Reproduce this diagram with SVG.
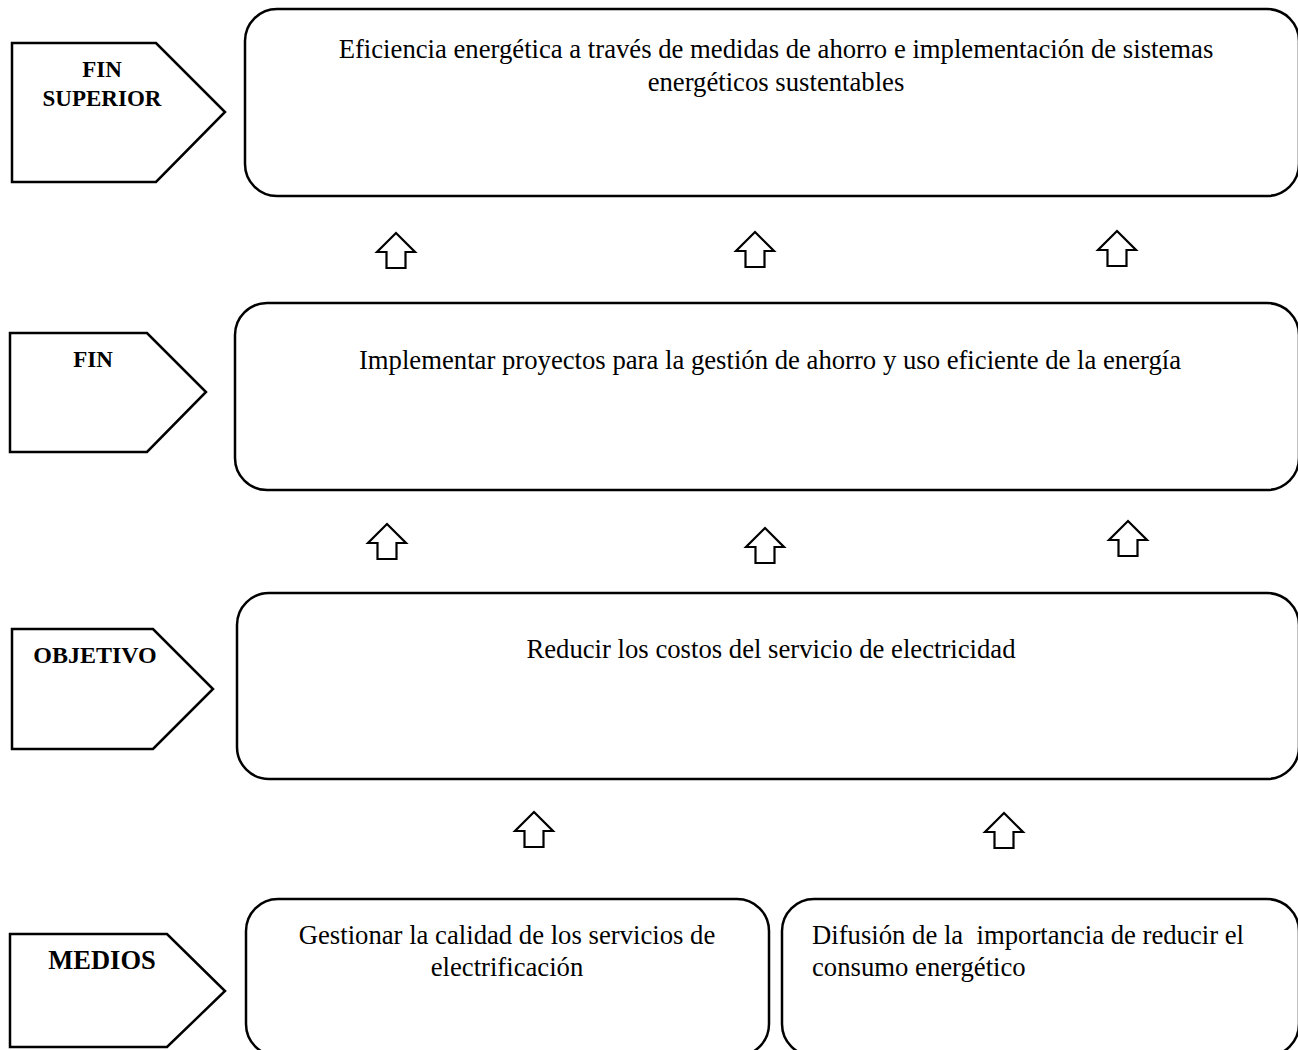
<svg xmlns="http://www.w3.org/2000/svg" width="1298" height="1050" viewBox="0 0 1298 1050">
<defs>
<style>
.box{fill:#fff;stroke:#000;stroke-width:2.5}
.pent{fill:#fff;stroke:#000;stroke-width:2.5;stroke-linejoin:miter}
.arr{fill:#fff;stroke:#000;stroke-width:2.2;stroke-linejoin:miter}
.t{font-family:"Liberation Serif","Times New Roman",serif;font-size:26.7px;fill:#000}
.c{text-anchor:middle}
.lb{font-family:"Liberation Serif","Times New Roman",serif;font-size:23px;font-weight:bold;fill:#000;text-anchor:middle}
</style>
<path id="up" d="M0,0 L19,19 L9.5,19 L9.5,35 L-9.5,35 L-9.5,19 L-19,19 Z"/>
</defs>
<rect width="1298" height="1050" fill="#fff"/>

<g id="label-fin-superior">
<polygon class="pent" points="12,43 156,43 225,112 156,182 12,182"/>
<text class="lb" x="102" y="77">FIN</text>
<text class="lb" x="102" y="106">SUPERIOR</text>
</g>
<g id="node-fin-superior">
<rect class="box" x="245" y="9" width="1054" height="187" rx="32"/>
<text class="t c" x="776" y="58">Eficiencia energética a través de medidas de ahorro e implementación de sistemas</text>
<text class="t c" x="776" y="91">energéticos sustentables</text>
</g>

<g id="label-fin">
<polygon class="pent" points="10,333 147,333 206,392 147,452 10,452"/>
<text class="lb" x="93" y="367">FIN</text>
</g>
<g id="node-fin">
<rect class="box" x="235" y="303" width="1064" height="187" rx="32"/>
<text class="t c" x="770" y="369">Implementar proyectos para la gestión de ahorro y uso eficiente de la energía</text>
</g>

<g id="label-objetivo">
<polygon class="pent" points="12,629 153,629 213,689 153,749 12,749"/>
<text class="lb" x="95" y="663" style="font-size:24px">OBJETIVO</text>
</g>
<g id="node-objetivo">
<rect class="box" x="237" y="593" width="1062" height="186" rx="32"/>
<text class="t c" x="771" y="658">Reducir los costos del servicio de electricidad</text>
</g>

<g id="label-medios">
<polygon class="pent" points="10,934 167,934 225,991 167,1047 10,1047"/>
<text class="lb" x="102" y="969" style="font-size:26.5px">MEDIOS</text>
</g>
<g id="node-medio-1">
<rect class="box" x="246" y="899" width="523" height="157" rx="32"/>
<text class="t c" x="507" y="944">Gestionar la calidad de los servicios de</text>
<text class="t c" x="507" y="976">electrificación</text>
</g>
<g id="node-medio-2">
<rect class="box" x="782" y="899" width="517" height="157" rx="32"/>
<text class="t" x="812" y="944" xml:space="preserve">Difusión de la  importancia de reducir el</text>
<text class="t" x="812" y="976">consumo energético</text>
</g>

<g id="connectors">
<use href="#up" class="arr" x="396" y="233"/>
<use href="#up" class="arr" x="755" y="232"/>
<use href="#up" class="arr" x="1117" y="231"/>
<use href="#up" class="arr" x="387" y="524"/>
<use href="#up" class="arr" x="765" y="528"/>
<use href="#up" class="arr" x="1128" y="521"/>
<use href="#up" class="arr" x="534" y="812"/>
<use href="#up" class="arr" x="1004" y="813"/>
</g>
</svg>
